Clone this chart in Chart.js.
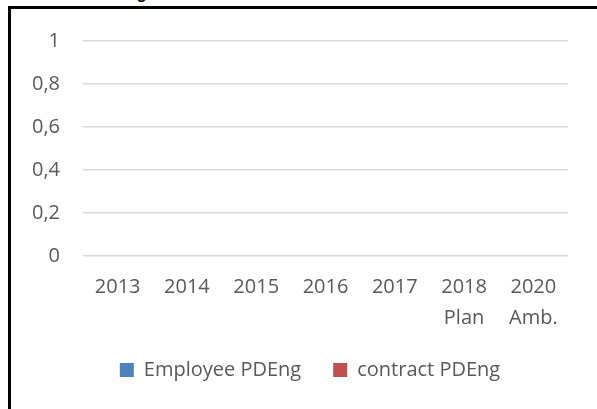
<!DOCTYPE html>
<html>
<head>
<meta charset="utf-8">
<script src="https://cdn.jsdelivr.net/npm/chart.js@4"></script>
<style>
  html, body { margin: 0; padding: 0; background: #fff; overflow: hidden; }
  #wrap { position: relative; width: 597px; height: 409px; }
  #frame { position: absolute; left: 8px; top: 6px; width: 600px; height: 420px;
           border-left: 3px solid #000; border-top: 3px solid #000; box-sizing: border-box; }
  #title { position: absolute; left: 94px; top: -15px; font: bold 16px "Liberation Sans", Arial, sans-serif; color: #000; white-space: nowrap; }
  canvas { position: absolute; left: 0; top: 0; }
</style>
</head>
<body>
<div id="wrap">
  <div id="title">PDEng candidates</div>
  <div id="frame"></div>
  <canvas id="myChart" width="597" height="409"></canvas>
</div>
<script>
let years = [["2013"], ["2014"], ["2015"], ["2016"], ["2017"], ["2018", "Plan"], ["2020", "Amb."]];
let employeeValues = [0, 0, 0, 0, 0, 0, 0];
let contractValues = [0, 0, 0, 0, 0, 0, 0];
let seriesNames = ["Employee PDEng", "contract PDEng"];
let yTicks = [0, 0.2, 0.4, 0.6, 0.8, 1];

let fontFamily = "'Open Sans', sans-serif";
Chart.defaults.color = '#595959';
Chart.defaults.font.family = fontFamily;

// legend sits a bit right of the plot centre in the original
let legendShift = {
  id: 'legendShift',
  afterLayout: function (chart) {
    chart.legend.left += 16;
    chart.legend.right += 16;
  }
};

let ctx = document.getElementById('myChart').getContext('2d');
let myChart = new Chart(ctx, {
  type: 'bar',
  data: {
    labels: years,
    datasets: [{
      label: seriesNames[0],
      data: employeeValues,
      backgroundColor: '#4f81bd'
    }, {
      label: seriesNames[1],
      data: contractValues,
      backgroundColor: '#c0504d'
    }]
  },
  options: {
    responsive: false,
    animation: false,
    layout: {
      padding: { left: 20, right: 29, top: 41, bottom: 19 }
    },
    scales: {
      x: {
        grid: { display: false, drawTicks: false },
        border: { display: false },
        ticks: {
          font: { size: 20, lineHeight: 1.55 },
          padding: 16,
          maxRotation: 0,
          autoSkip: false
        },
        afterFit: function (scale) { scale.height = 72; }
      },
      y: {
        min: 0,
        max: 1,
        grid: { color: '#d9d9d9', lineWidth: 1.5, drawTicks: false },
        border: { display: false },
        afterBuildTicks: function (scale) {
          scale.ticks = yTicks.map(v => ({ value: v }));
        },
        ticks: {
          font: { size: 20 },
          padding: 23,
          callback: function (v) { return String(Math.round(v * 10) / 10).replace('.', ','); }
        },
        afterFit: function (scale) { scale.width = 63; }
      }
    },
    plugins: {
      legend: {
        display: true,
        position: 'bottom',
        labels: {
          boxWidth: 14,
          boxHeight: 14,
          padding: 32,
          font: { size: 20 }
        }
      },
      tooltip: { enabled: false }
    }
  },
  plugins: [legendShift]
});
</script>
</body>
</html>
